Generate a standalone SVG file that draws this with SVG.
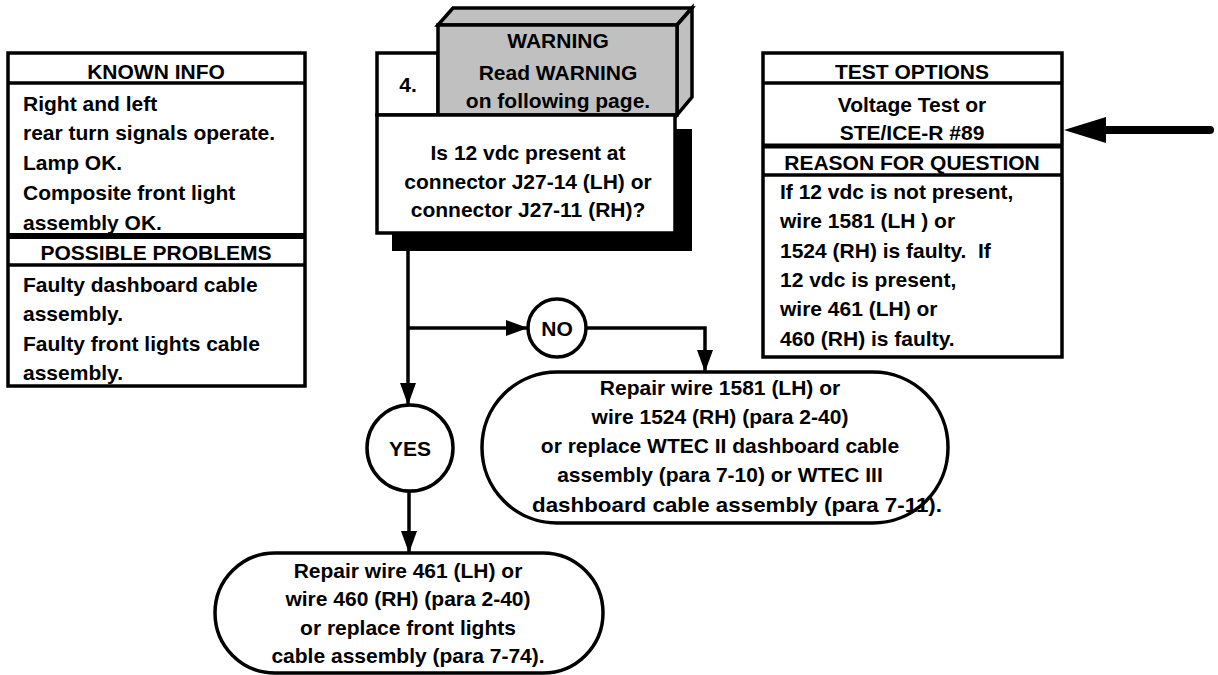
<svg xmlns="http://www.w3.org/2000/svg" width="1218" height="675" viewBox="0 0 1218 675">
<defs>
<style>
text{font-family:"Liberation Sans",Arial,sans-serif;font-weight:bold;font-size:21px;fill:#000}
.c{text-anchor:middle}
.box{fill:#fff;stroke:#000;stroke-width:3.5}
.ln{stroke:#000;stroke-width:3.5;fill:none}
.gray{fill:#c0c0c0;stroke:#000;stroke-width:3.5;stroke-linejoin:miter}
</style>
<marker id="ah" viewBox="0 0 22 16" refX="22" refY="8" markerWidth="22" markerHeight="16" markerUnits="userSpaceOnUse" orient="auto">
<path d="M0,0 L22,8 L0,16 Z" fill="#000"/>
</marker>
</defs>
<rect width="1218" height="675" fill="#fff"/>

<g id="known-info">
<rect class="box" x="8" y="53" width="297" height="333"/>
<line class="ln" x1="8" y1="83" x2="305" y2="83"/>
<line x1="8" y1="236" x2="305" y2="236" stroke="#000" stroke-width="6"/>
<line class="ln" x1="8" y1="265" x2="305" y2="265"/>
<text class="c" x="156" y="79">KNOWN INFO</text>
<text x="23" y="111">Right and left</text>
<text x="23" y="140">rear turn signals operate.</text>
<text x="23" y="170">Lamp OK.</text>
<text x="23" y="200">Composite front light</text>
<text x="23" y="230">assembly OK.</text>
<text class="c" x="156" y="260">POSSIBLE PROBLEMS</text>
<text x="23" y="292">Faulty dashboard cable</text>
<text x="23" y="321">assembly.</text>
<text x="23" y="351">Faulty front lights cable</text>
<text x="23" y="380">assembly.</text>
</g>

<g id="step4">
<rect x="392" y="129" width="300" height="122" fill="#000"/>
<rect class="box" x="377" y="53" width="61" height="62"/>
<polygon class="gray" points="438,25 453,8 692,8 677,25"/>
<polygon class="gray" points="677,25 692,8 692,97 677,115"/>
<rect class="gray" x="438" y="25" width="239" height="90"/>
<rect class="box" x="377" y="115" width="298" height="118"/>
<text class="c" x="408" y="92">4.</text>
<text class="c" x="558" y="48">WARNING</text>
<text class="c" x="558" y="80">Read WARNING</text>
<text class="c" x="558" y="108">on following page.</text>
<text class="c" x="528" y="160">Is 12 vdc present at</text>
<text class="c" x="528" y="189">connector J27-14 (LH) or</text>
<text class="c" x="528" y="217">connector J27-11 (RH)?</text>
</g>

<g id="test-options">
<rect class="box" x="763" y="53" width="299" height="304"/>
<line class="ln" x1="763" y1="83" x2="1062" y2="83"/>
<line x1="763" y1="146" x2="1062" y2="146" stroke="#000" stroke-width="5"/>
<line class="ln" x1="763" y1="175" x2="1062" y2="175"/>
<text class="c" x="912" y="79">TEST OPTIONS</text>
<text class="c" x="912" y="112">Voltage Test or</text>
<text class="c" x="912" y="140">STE/ICE-R #89</text>
<text class="c" x="912" y="170">REASON FOR QUESTION</text>
<text x="780" y="199">If 12 vdc is not present,</text>
<text x="780" y="228">wire 1581 (LH ) or</text>
<text x="780" y="258">1524 (RH) is faulty.&#160; If</text>
<text x="780" y="287">12 vdc is present,</text>
<text x="780" y="316">wire 461 (LH) or</text>
<text x="780" y="346">460 (RH) is faulty.</text>
</g>

<g id="no">
<circle class="box" cx="557" cy="328" r="29"/>
<text class="c" x="557" y="336">NO</text>
</g>

<g id="yes">
<circle class="box" cx="410" cy="448" r="43"/>
<text class="c" x="410" y="456">YES</text>
</g>

<g id="repair-no">
<rect class="box" x="482" y="372" width="466" height="151" rx="75" ry="75"/>
<text class="c" x="720" y="395">Repair wire 1581 (LH) or</text>
<text class="c" x="720" y="424">wire 1524 (RH) (para 2-40)</text>
<text class="c" x="720" y="453">or replace WTEC II dashboard cable</text>
<text class="c" x="720" y="482">assembly (para 7-10) or WTEC III</text>
<text x="532" y="512" textLength="410" lengthAdjust="spacingAndGlyphs">dashboard cable assembly (para 7-11).</text>
</g>

<g id="repair-yes">
<rect class="box" x="215" y="553" width="388" height="120" rx="60" ry="60"/>
<text class="c" x="408" y="578">Repair wire 461 (LH) or</text>
<text class="c" x="408" y="606">wire 460 (RH) (para 2-40)</text>
<text class="c" x="408" y="635">or replace front lights</text>
<text class="c" x="408" y="663">cable assembly (para 7-74).</text>
</g>

<g id="connectors">
<line class="ln" x1="408" y1="251" x2="408" y2="405" marker-end="url(#ah)"/>
<line class="ln" x1="408" y1="328" x2="528" y2="328" marker-end="url(#ah)"/>
<polyline class="ln" points="586,328 705,328 705,372" marker-end="url(#ah)"/>
<line class="ln" x1="409" y1="491" x2="409" y2="553" marker-end="url(#ah)"/>
<line x1="1210" y1="130" x2="1100" y2="130" stroke="#000" stroke-width="8" stroke-linecap="round"/>
<polygon points="1064,130 1106,117 1106,143" fill="#000"/>
</g>
</svg>
